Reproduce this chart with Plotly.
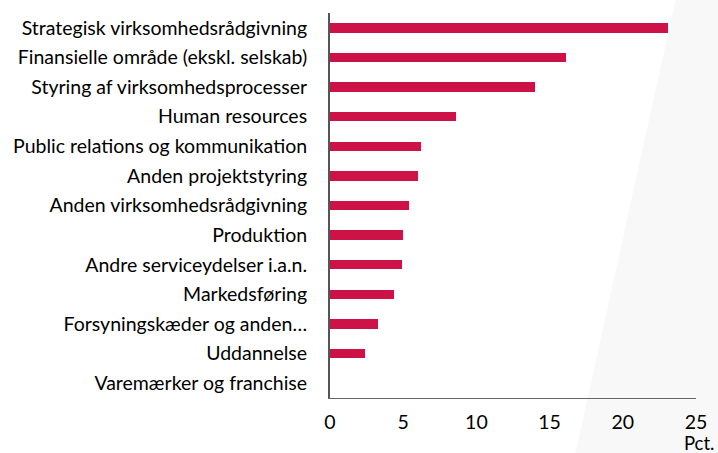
import plotly.graph_objects as go

categories = [
    "Strategisk virksomhedsrådgivning",
    "Finansielle område (ekskl. selskab)",
    "Styring af virksomhedsprocesser",
    "Human resources",
    "Public relations og kommunikation",
    "Anden projektstyring",
    "Anden virksomhedsrådgivning",
    "Produktion",
    "Andre serviceydelser i.a.n.",
    "Markedsføring",
    "Forsyningskæder og anden…",
    "Uddannelse",
    "Varemærker og franchise",
]
values = [23.1, 16.1, 14.0, 8.6, 6.2, 6.0, 5.4, 5.0, 4.9, 4.4, 3.3, 2.4, 0.0]
x_ticks = [0, 5, 10, 15, 20, 25]
unit_label = "Pct."

W, H = 718, 453
ML, MR, MT, MB = 330, 22, 13, 55
pw, ph = W - ML - MR, H - MT - MB

def px(x):
    return (x - ML) / pw

def py(y):
    return (H - MB - y) / ph

fig = go.Figure(go.Bar(
    x=values, y=categories, orientation="h",
    marker=dict(color="#CC1247", line=dict(width=0)),
    width=0.32,
))

path = (f"M {px(676)} {py(-2)} L {px(720)} {py(-2)} L {px(720)} {py(455)} "
        f"L {px(575)} {py(455)} Z")
fig.add_shape(type="path", path=path, xref="paper", yref="paper",
              fillcolor="#F8F8F8", line=dict(width=0), layer="below")

fig.add_annotation(text=unit_label, xref="paper", yref="paper",
                   x=px(716), y=py(443), xanchor="right", yanchor="middle",
                   showarrow=False, font=dict(size=18.5, color="#000"))

fig.update_layout(
    width=W, height=H,
    margin=dict(l=ML, r=MR, t=MT, b=MB),
    paper_bgcolor="white", plot_bgcolor="rgba(0,0,0,0)",
    font=dict(family="Lato, Open Sans, sans-serif", size=19.5, color="#000"),
    showlegend=False,
    bargap=0,
)
fig.update_xaxes(range=[0, 25], tickvals=x_ticks, showgrid=False, zeroline=False,
                 showline=True, linecolor="#666666", linewidth=1.3,
                 ticks="", ticklabelstandoff=6, fixedrange=True)
fig.update_yaxes(autorange="reversed", showgrid=False, zeroline=False,
                 showline=True, linecolor="#555555", linewidth=2,
                 ticks="", ticklabelstandoff=17, fixedrange=True)

fig.write_html("out.html", config={"displayModeBar": False},
               post_script="document.body.style.margin='0';")
